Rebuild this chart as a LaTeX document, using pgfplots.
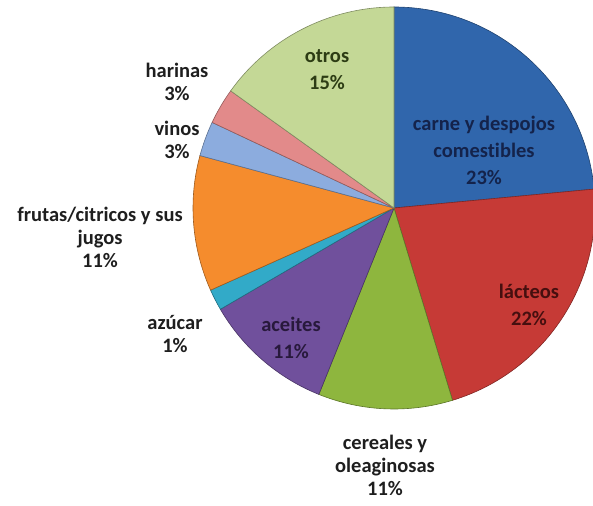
\documentclass[border=0pt]{standalone}
\usepackage{pgfplots}
\pgfplotsset{compat=1.18}
\usepackage{pgfplotstable}
\usepackage{fontspec}
\setmainfont[Ligatures=NoCommon]{Carlito}

\definecolor{slice0}{RGB}{48,102,172}   % carne
\definecolor{slice1}{RGB}{198,58,54}    % lacteos
\definecolor{slice2}{RGB}{142,182,62}   % cereales
\definecolor{slice3}{RGB}{112,80,156}   % aceites
\definecolor{slice4}{RGB}{50,170,200}   % azucar
\definecolor{slice5}{RGB}{245,140,45}   % frutas
\definecolor{slice6}{RGB}{140,172,222}  % vinos
\definecolor{slice7}{RGB}{226,138,138}  % harinas
\definecolor{slice8}{RGB}{196,216,150}  % otros

% share of each group, clockwise from 12 o'clock
\pgfplotstableread{
name value
carne 23.5
lacteos 21.8
cereales 10.8
aceites 10.5
azucar 1.7
frutas 10.9
vinos 2.8
harinas 2.9
otros 15.1
}\piedata

\begin{document}
\begin{tikzpicture}
\begin{axis}[
    width=593pt, height=505pt,
    scale only axis,
    xmin=0, xmax=593, ymin=0, ymax=505,
    axis lines=none,
    clip=false,
]
\def\startang{90}
\pgfplotsforeachungrouped \i in {0,...,8}{
    \pgfplotstablegetelem{\i}{value}\of\piedata
    \pgfmathsetmacro\endang{\startang-3.6*\pgfplotsretval}
    \edef\cmd{\noexpand\fill[fill=slice\i, draw=slice\i!65!black, line width=0.6pt]
        (axis cs:394,297) -- ++(\startang:201pt)
        arc[start angle=\startang, end angle=\endang, radius=201pt] -- cycle;}
    \cmd
    \let\startang\endang
}

% labels inside the slices
\tikzset{lab/.style={align=center, font=\fontsize{20.5}{27}\selectfont\bfseries}}
\node[lab, text={rgb,255:red,20;green,35;blue,75}] at (axis cs:484,355) {carne y despojos\\comestibles\\23\%};
\node[lab, text={rgb,255:red,70;green,15;blue,15}] at (axis cs:529,200) {lácteos\\22\%};
\node[lab, text={rgb,255:red,40;green,25;blue,60}] at (axis cs:291,167) {aceites\\11\%};
\node[lab, text={rgb,255:red,45;green,60;blue,20}] at (axis cs:327,435) {otros\\15\%};

% labels outside
\tikzset{olab/.style={align=center, text={rgb,255:red,30;green,30;blue,30}, font=\fontsize{20.5}{23}\selectfont\bfseries}}
\node[olab] at (axis cs:385,40) {cereales y\\oleaginosas\\11\%};
\node[olab] at (axis cs:175,171) {azúcar\\1\%};
\node[olab] at (axis cs:100,268) {frutas/citricos y sus\\jugos\\11\%};
\node[olab] at (axis cs:177,365) {vinos\\3\%};
\node[olab] at (axis cs:177,423) {harinas\\3\%};
\end{axis}
\pgfresetboundingbox
\path (current axis.south west) rectangle (current axis.north east);
\end{tikzpicture}
\end{document}
